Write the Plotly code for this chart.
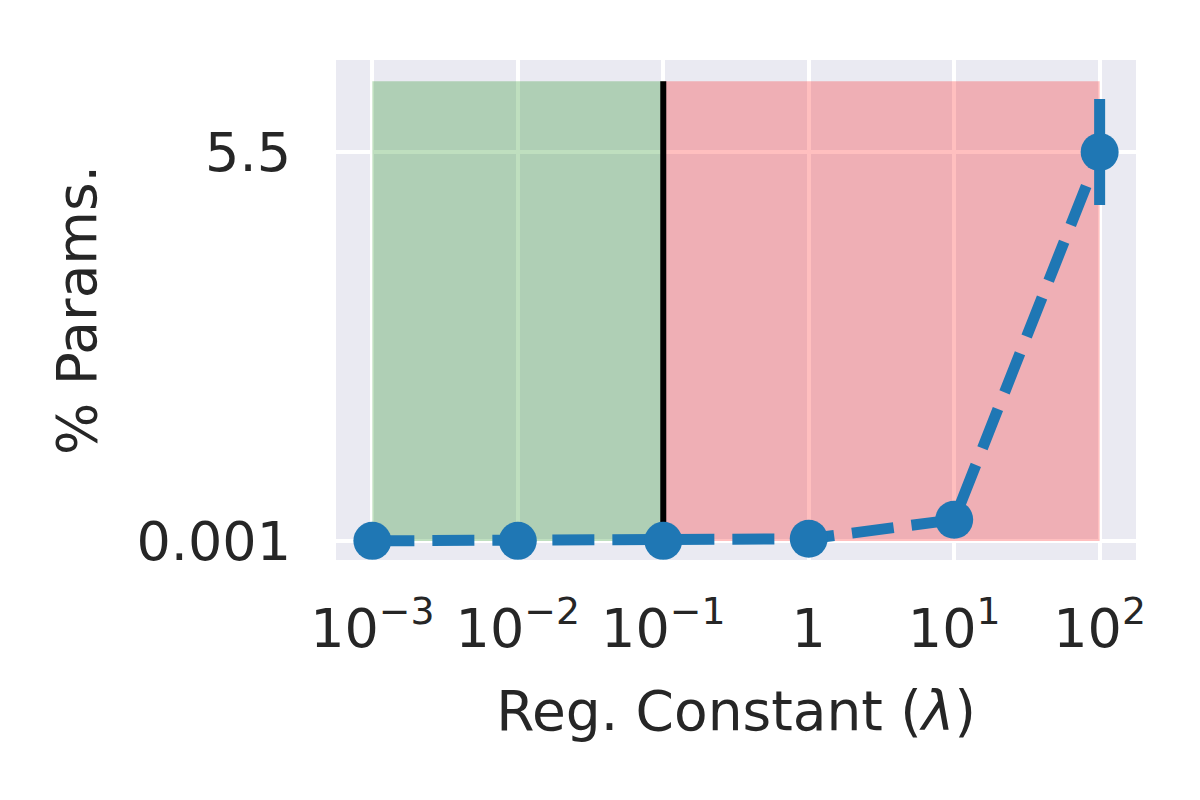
import plotly.graph_objects as go

# Data
reg_constants = [1e-3, 1e-2, 1e-1, 1, 10, 100]
pct_params = [0.001, 0.001, 0.001, 0.03, 0.30, 5.5]
pct_err = [0, 0, 0, 0, 0, 0.75]

x_tick_vals = [1e-3, 1e-2, 1e-1, 1, 10, 100]
x_tick_text = ["10<sup>−3</sup>", "10<sup>−2</sup>", "10<sup>−1</sup>", "1", "10<sup>1</sup>", "10<sup>2</sup>"]
y_tick_vals = [0.001, 5.5]
y_tick_text = ["0.001", "5.5"]

threshold = 0.1
good_span = [1e-3, threshold]
bad_span = [threshold, 100]
span_y = [0, 6.5]

FONT = "DejaVu Sans"
TXT = "#262626"

fig = go.Figure()

fig.add_trace(go.Scatter(
    x=[good_span[0], good_span[0], good_span[1], good_span[1]],
    y=[span_y[0], span_y[1], span_y[1], span_y[0]],
    fill="toself", fillcolor="rgba(0,128,0,0.25)", line=dict(width=0),
    mode="lines", hoverinfo="skip", showlegend=False))
fig.add_trace(go.Scatter(
    x=[bad_span[0], bad_span[0], bad_span[1], bad_span[1]],
    y=[span_y[0], span_y[1], span_y[1], span_y[0]],
    fill="toself", fillcolor="rgba(255,0,0,0.25)", line=dict(width=0),
    mode="lines", hoverinfo="skip", showlegend=False))
fig.add_trace(go.Scatter(
    x=[threshold, threshold], y=span_y, mode="lines",
    line=dict(color="black", width=6), showlegend=False))

fig.add_trace(go.Scatter(
    x=reg_constants, y=pct_params, mode="lines+markers",
    line=dict(color="#1f77b4", width=11, dash="42px,18px"),
    marker=dict(size=38, color="#1f77b4"),
    error_y=dict(type="data", array=pct_err, visible=True, color="#1f77b4",
                 thickness=11, width=0),
    showlegend=False))

fig.update_layout(
    width=1200, height=800,
    margin=dict(l=328, r=72, t=52, b=248),
    paper_bgcolor="white", plot_bgcolor="#EAEAF2",
    font=dict(family=FONT, color=TXT, size=54),
    showlegend=False,
)
fig.update_xaxes(
    type="log", range=[-3.25, 2.25],
    tickvals=x_tick_vals, ticktext=x_tick_text,
    showgrid=True, gridcolor="white", gridwidth=3.5,
    zeroline=False, showline=False, ticks="",
    ticklabelstandoff=32,
    tickfont=dict(size=54, family=FONT, color=TXT),
    title=dict(text="Reg. Constant (<i>λ</i>)", font=dict(size=55, family=FONT, color=TXT), standoff=32),
)
fig.update_yaxes(
    range=[-0.27, 6.80],
    tickvals=y_tick_vals, ticktext=y_tick_text,
    showgrid=True, gridcolor="white", gridwidth=3.5,
    zeroline=False, showline=False, ticks="",
    ticklabelstandoff=44,
    tickfont=dict(size=54, family=FONT, color=TXT),
    title=dict(text="% Params.", font=dict(size=55, family=FONT, color=TXT), standoff=22),
)

fig.write_html("out.html")
